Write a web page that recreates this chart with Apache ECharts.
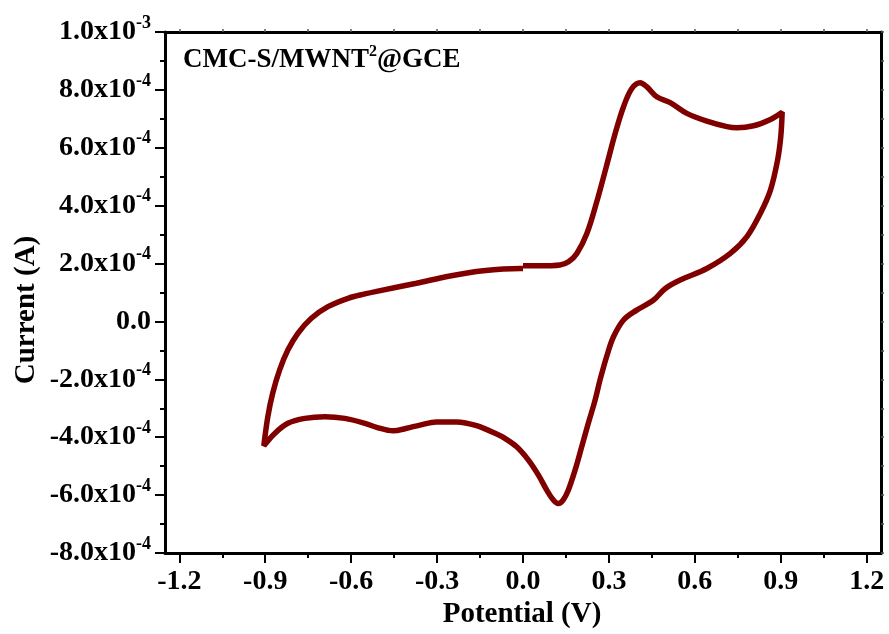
<!DOCTYPE html>
<html>
<head>
<meta charset="utf-8">
<script src="https://cdn.jsdelivr.net/npm/echarts@6/dist/echarts.min.js"></script>
<style>
html,body{margin:0;padding:0;background:#fff;}
#chart{width:889px;height:634px;}
</style>
</head>
<body>
<div id="chart"></div>
<script>
// Potential (V) along the CV loop, starting at 0 V, anodic sweep to +0.9, back to -0.9, back to 0
const potential = [
  0.000, 0.059, 0.129, 0.159, 0.188, 0.223, 0.256, 0.291, 0.322, 0.351, 0.380, 0.409, 0.432, 0.467, 0.514, 0.572, 0.642, 0.712, 0.747, 0.805, 0.864, 0.905,
  0.900, 0.889, 0.864, 0.829, 0.782, 0.724, 0.642, 0.549, 0.497, 0.456, 0.397, 0.351, 0.316, 0.294, 0.269, 0.252, 0.228, 0.205, 0.182, 0.158, 0.140, 0.123, 0.106, 0.083, 0.054, 0.019,
  -0.022, -0.063, -0.090, -0.162, -0.232, -0.302, -0.360, -0.406, -0.453, -0.511, -0.552, -0.622, -0.692, -0.762, -0.821, -0.867, -0.905,
  -0.891, -0.874, -0.850, -0.821, -0.786, -0.739, -0.681, -0.611, -0.552, -0.511, -0.372, -0.255, -0.139, -0.010, 0.000
];
// Current (A)
const current = [
  1.92e-4, 1.92e-4, 1.95e-4, 2.06e-4, 2.35e-4, 3.04e-4, 4.08e-4, 5.35e-4, 6.50e-4, 7.42e-4, 8.05e-4, 8.25e-4, 8.11e-4, 7.76e-4, 7.56e-4, 7.19e-4, 6.92e-4, 6.73e-4, 6.69e-4, 6.76e-4, 6.98e-4, 7.23e-4,
  6.38e-4, 5.58e-4, 4.54e-4, 3.74e-4, 2.93e-4, 2.35e-4, 1.83e-4, 1.43e-4, 1.14e-4, 0.74e-4, 0.39e-4, 0.05e-4, -0.53e-4, -1.15e-4, -2.02e-4, -2.71e-4, -3.52e-4, -4.33e-4, -5.13e-4, -5.83e-4, -6.17e-4, -6.29e-4, -6.17e-4, -5.83e-4, -5.31e-4, -4.79e-4,
  -4.33e-4, -4.04e-4, -3.90e-4, -3.60e-4, -3.47e-4, -3.47e-4, -3.58e-4, -3.69e-4, -3.78e-4, -3.66e-4, -3.52e-4, -3.35e-4, -3.29e-4, -3.35e-4, -3.52e-4, -3.87e-4, -4.30e-4,
  -3.29e-4, -2.48e-4, -1.68e-4, -0.99e-4, -0.41e-4, 0.11e-4, 0.51e-4, 0.80e-4, 0.95e-4, 1.04e-4, 1.32e-4, 1.57e-4, 1.75e-4, 1.83e-4, 1.83e-4
];
const xTickLabels = [-1.2, -0.9, -0.6, -0.3, 0.0, 0.3, 0.6, 0.9, 1.2];
const xMinorTicks = [-1.05, -0.75, -0.45, -0.15, 0.15, 0.45, 0.75, 1.05];
const xTopTicks = [-1.2, -1.05, -0.9, -0.75, -0.6, -0.45, -0.3, -0.15, 0.0, 0.15, 0.3, 0.45, 0.6, 0.75, 0.9, 1.05, 1.2];
const xTitle = 'Potential (V)';
const yTitle = 'Current (A)';
const labelText = ['CMC-S/MWNT', '2', '@GCE'];

const FONT = "'Liberation Serif', 'Times New Roman', serif";
const chart = echarts.init(document.getElementById('chart'), null, {renderer: 'canvas'});

function sciLabel(v) {
  if (Math.abs(v) < 1e-12) return '{b|0.0}';
  const e = Math.floor(Math.log10(Math.abs(v)) + 1e-9);
  const m = v / Math.pow(10, e);
  return '{b|' + m.toFixed(1) + 'x10}{s|' + e + '}';
}

const data = potential.map((p, i) => [p, current[i]]);

const option = {
  animation: false,
  backgroundColor: '#fff',
  grid: {left: 165, right: 8, top: 32, bottom: 81, containLabel: false},
  xAxis: [
    {
      type: 'value', min: -1.25, max: 1.25, position: 'bottom',
      axisLine: {show: true, onZero: false, lineStyle: {color: '#000', width: 3}},
      axisTick: {show: true, customValues: xTickLabels, length: 10, lineStyle: {color: '#000', width: 2}},
      axisLabel: {customValues: xTickLabels, formatter: v => (Math.abs(v) < 1e-9 ? 0 : v).toFixed(1),
        fontFamily: FONT, fontWeight: 'bold', fontSize: 28, color: '#000', margin: 15},
      splitLine: {show: false}
    },
    {
      type: 'value', min: -1.25, max: 1.25, position: 'bottom',
      axisLine: {show: false, onZero: false},
      axisTick: {show: true, customValues: xMinorTicks, length: 5, lineStyle: {color: '#000', width: 2}},
      axisLabel: {show: false, customValues: xMinorTicks},
      splitLine: {show: false}
    },
    {
      type: 'value', min: -1.25, max: 1.25, position: 'top',
      axisLine: {show: true, onZero: false, lineStyle: {color: '#000', width: 3}},
      axisTick: {show: true, customValues: xTopTicks, length: 3, lineStyle: {color: '#555', width: 1.5}},
      axisLabel: {show: false, customValues: xTopTicks},
      splitLine: {show: false}
    }
  ],
  yAxis: [
    {
      type: 'value', min: -8e-4, max: 1e-3, interval: 2e-4, position: 'left',
      axisLine: {show: true, onZero: false, lineStyle: {color: '#000', width: 3}},
      axisTick: {show: true, length: 10, lineStyle: {color: '#000', width: 2}},
      minorTick: {show: true, splitNumber: 2, length: 5, lineStyle: {color: '#000', width: 2}},
      axisLabel: {
        formatter: sciLabel, margin: 14,
        rich: {
          b: {fontFamily: FONT, fontWeight: 'bold', fontSize: 28, color: '#000', lineHeight: 36},
          s: {fontFamily: FONT, fontWeight: 'bold', fontSize: 18, color: '#000', verticalAlign: 'top', lineHeight: 18}
        }
      },
      splitLine: {show: false},
      minorSplitLine: {show: false}
    },
    {
      type: 'value', min: -8e-4, max: 1e-3, interval: 1e-4, position: 'right',
      axisLine: {show: true, onZero: false, lineStyle: {color: '#000', width: 3}},
      axisTick: {show: true, length: 3, lineStyle: {color: '#555', width: 1.5}},
      axisLabel: {show: false},
      splitLine: {show: false}
    }
  ],
  graphic: [
    {
      type: 'text', left: 183, top: 44, z: 10,
      style: {
        text: '{a|' + labelText[0] + '}{s|' + labelText[1] + '}{a|' + labelText[2] + '}',
        rich: {
          a: {fontFamily: FONT, fontWeight: 'bold', fontSize: 27, fill: '#000', lineHeight: 32},
          s: {fontFamily: FONT, fontWeight: 'bold', fontSize: 16, fill: '#000', verticalAlign: 'top', lineHeight: 16}
        }
      }
    },
    {
      type: 'text', x: 522, y: 615, z: 10,
      style: {text: xTitle, fontFamily: FONT, fontWeight: 'bold', fontSize: 29, fill: '#000', align: 'center', verticalAlign: 'middle'}
    },
    {
      type: 'text', x: 27, y: 310, rotation: Math.PI / 2, z: 10,
      style: {text: yTitle, fontFamily: FONT, fontWeight: 'bold', fontSize: 29, fill: '#000', align: 'center', verticalAlign: 'middle'}
    }
  ],
  series: [
    {
      type: 'line', xAxisIndex: 0, yAxisIndex: 0, data: data,
      showSymbol: false, smooth: 0.35,
      lineStyle: {color: '#800000', width: 5.5},
      clip: true
    }
  ]
};
chart.setOption(option);
</script>
</body>
</html>
